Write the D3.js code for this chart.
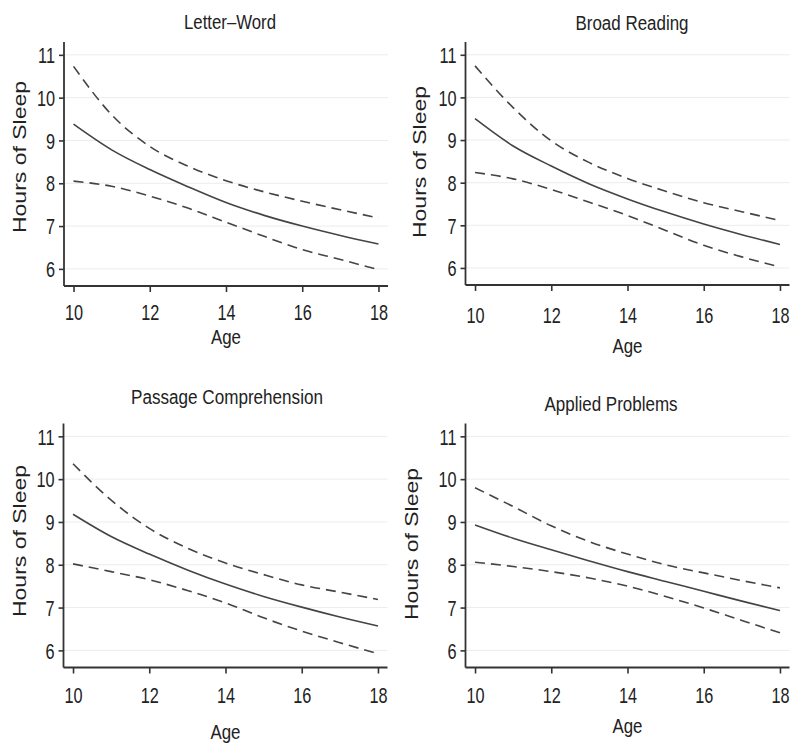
<!DOCTYPE html>
<html>
<head>
<meta charset="utf-8">
<script src="https://cdn.jsdelivr.net/npm/d3@7"></script>
<style>
  body { margin: 0; background: #fff; }
  svg { display: block; }
  text { fill: #222; font-family: "Liberation Sans", Arial, sans-serif; }
</style>
</head>
<body>
<svg id="chart"></svg>
<script>
// ages on the x axis
var ages = [10, 11, 12, 13, 14, 15, 16, 17, 18];
var xTicks = [10, 12, 14, 16, 18];
var yTicks = [6, 7, 8, 9, 10, 11];
var titles = ["Letter\u2013Word", "Broad Reading", "Passage Comprehension", "Applied Problems"];

// fitted hours of sleep and 95% band
var letterWordMean  = [9.38, 8.78, 8.32, 7.92, 7.55, 7.25, 7.00, 6.78, 6.58];
var letterWordUpper = [10.73, 9.60, 8.86, 8.40, 8.06, 7.80, 7.58, 7.38, 7.19];
var letterWordLower = [8.05, 7.93, 7.70, 7.42, 7.09, 6.76, 6.45, 6.22, 5.98];

var broadReadingMean  = [9.50, 8.86, 8.39, 7.97, 7.62, 7.31, 7.03, 6.78, 6.55];
var broadReadingUpper = [10.74, 9.76, 8.98, 8.47, 8.10, 7.80, 7.53, 7.32, 7.11];
var broadReadingLower = [8.24, 8.09, 7.84, 7.54, 7.23, 6.88, 6.53, 6.26, 6.02];

var passageMean  = [9.18, 8.66, 8.25, 7.88, 7.55, 7.26, 7.01, 6.78, 6.57];
var passageUpper = [10.36, 9.51, 8.85, 8.39, 8.04, 7.77, 7.53, 7.36, 7.19];
var passageLower = [8.02, 7.84, 7.65, 7.40, 7.11, 6.76, 6.45, 6.18, 5.92];

var appliedMean  = [8.93, 8.62, 8.35, 8.09, 7.84, 7.61, 7.38, 7.15, 6.93];
var appliedUpper = [9.80, 9.36, 8.91, 8.54, 8.25, 8.00, 7.81, 7.63, 7.46];
var appliedLower = [8.06, 7.96, 7.84, 7.69, 7.50, 7.26, 6.99, 6.70, 6.41];

var series = [
    [letterWordMean, letterWordUpper, letterWordLower],
    [broadReadingMean, broadReadingUpper, broadReadingLower],
    [passageMean, passageUpper, passageLower],
    [appliedMean, appliedUpper, appliedLower]
];

// where each panel sits on the page (and how wide its squeezed text is)
var panels = [
    { left: 64,    top: 42,    w: 324, h: 244, titleX: 230, titleY: 29,  titleW: 92,  tickY: 34, ageY: 58, labX: 26,  labY: 157 },
    { left: 465.5, top: 42,    w: 324, h: 243, titleX: 632, titleY: 30,  titleW: 113, tickY: 38, ageY: 68, labX: 426, labY: 162 },
    { left: 63.5,  top: 423.5, w: 324, h: 244, titleX: 227, titleY: 404, titleW: 192, tickY: 36, ageY: 71, labX: 26,  labY: 541 },
    { left: 465.5, top: 423.5, w: 324, h: 244, titleX: 611, titleY: 411, titleW: 133, tickY: 36, ageY: 65, labX: 418, labY: 544 }
];

var width = 792, height = 745;
var svg = d3.select("#chart")
    .attr("width", width)
    .attr("height", height);

panels.forEach(function (p, i) {
    var x = d3.scaleLinear().domain([9.75, 18.25]).range([p.left, p.left + p.w]);
    var y = d3.scaleLinear().domain([5.6, 11.3]).range([p.top + p.h, p.top]);
    var g = svg.append("g");

    // faint gridlines
    g.selectAll("line.grid")
        .data(yTicks).enter()
        .append("line")
        .attr("class", "grid")
        .attr("x1", p.left).attr("x2", p.left + p.w)
        .attr("y1", function (d) { return y(d); })
        .attr("y2", function (d) { return y(d); })
        .attr("stroke", "#ececec")
        .attr("stroke-width", 1);

    // axes
    var yAxis = g.append("g")
        .attr("transform", "translate(" + p.left + ",0)")
        .call(d3.axisLeft(y).tickValues(yTicks).tickSize(5).tickFormat(d3.format("d")));
    var xAxis = g.append("g")
        .attr("transform", "translate(0," + (p.top + p.h) + ")")
        .call(d3.axisBottom(x).tickValues(xTicks).tickSize(6).tickFormat(d3.format("d")));

    [yAxis, xAxis].forEach(function (a) {
        a.select(".domain").attr("stroke", "#333").attr("stroke-width", 1.8);
        a.selectAll(".tick line").attr("stroke", "#333").attr("stroke-width", 1.6);
        a.selectAll("text").style("font-size", "22px").attr("fill", "#222");
    });
    // plain axis lines (no end caps)
    yAxis.select(".domain").attr("d", "M0," + y(11.3) + "V" + (p.top + p.h));
    xAxis.select(".domain").attr("d", "M" + p.left + ",0H" + (p.left + p.w));
    // the original type is condensed, so squeeze it sideways
    yAxis.selectAll(".tick text")
        .attr("x", 0).attr("dy", "0.35em")
        .attr("transform", "translate(-9,0) scale(0.74,1)");
    xAxis.selectAll(".tick text")
        .attr("y", p.tickY).attr("dy", 0)
        .attr("transform", "scale(0.74,1)");

    // lines
    var line = d3.line()
        .x(function (d) { return x(d[0]); })
        .y(function (d) { return y(d[1]); })
        .curve(d3.curveMonotoneX);

    series[i].forEach(function (vals, k) {
        g.append("path")
            .datum(d3.zip(ages, vals))
            .attr("d", line)
            .attr("fill", "none")
            .attr("stroke", "#444")
            .attr("stroke-width", 1.6)
            .attr("stroke-dasharray", k === 0 ? null : "10,6");
    });

    // titles and labels
    g.append("text")
        .attr("x", p.titleX).attr("y", p.titleY)
        .attr("text-anchor", "middle")
        .attr("textLength", p.titleW)
        .attr("lengthAdjust", "spacingAndGlyphs")
        .style("font-size", "20px")
        .text(titles[i]);

    g.append("text")
        .attr("x", x(14)).attr("y", p.top + p.h + p.ageY)
        .attr("text-anchor", "middle")
        .attr("textLength", 30)
        .attr("lengthAdjust", "spacingAndGlyphs")
        .style("font-size", "20px")
        .text("Age");

    g.append("text")
        .attr("transform", "translate(" + p.labX + "," + p.labY + ") rotate(-90)")
        .attr("text-anchor", "middle")
        .attr("textLength", 152)
        .attr("lengthAdjust", "spacingAndGlyphs")
        .style("font-size", "19px")
        .text("Hours of Sleep");
});
</script>
</body>
</html>
